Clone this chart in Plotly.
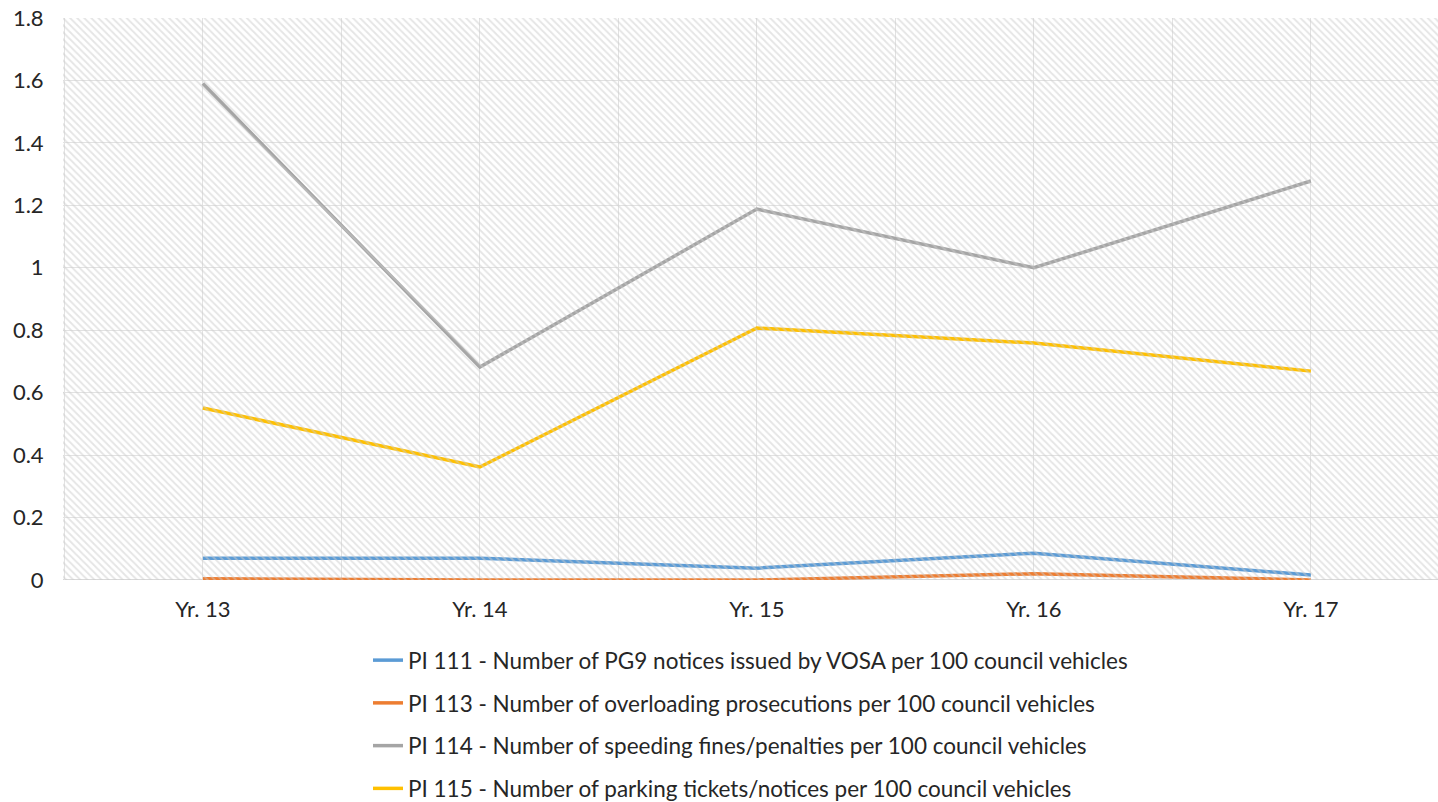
import plotly.graph_objects as go

categories = ["Yr. 13", "Yr. 14", "Yr. 15", "Yr. 16", "Yr. 17"]
pi111 = [0.07, 0.07, 0.038, 0.086, 0.016]
pi113 = [0.004, 0.0, 0.0, 0.02, 0.0]
pi114 = [1.59, 0.682, 1.188, 1.0, 1.278]
pi115 = [0.551, 0.362, 0.807, 0.759, 0.669]

series_names = [
    "PI 111 - Number of PG9 notices issued by VOSA per 100 council vehicles",
    "PI 113 - Number of overloading prosecutions per 100 council vehicles",
    "PI 114 - Number of speeding fines/penalties per 100 council vehicles",
    "PI 115 - Number of parking tickets/notices per 100 council vehicles",
]
series_values = [pi111, pi113, pi114, pi115]
series_colors = ["#5B9BD5", "#ED7D31", "#A5A5A5", "#FFC000"]

y_ticks = [0, 0.2, 0.4, 0.6, 0.8, 1, 1.2, 1.4, 1.6, 1.8]
y_ticktext = ["0", "0.2", "0.4", "0.6", "0.8", "1", "1.2", "1.4", "1.6", "1.8"]

FONT = "Lato"
xs = list(range(len(categories)))

fig = go.Figure()

# hatched plot background on an overlay axis spanning the whole plot area
fig.add_trace(go.Scatter(
    x=[0, 1, 1, 0, 0], y=[0, 0, 1, 1, 0], xaxis="x2", yaxis="y2",
    mode="none", fill="toself", fillcolor="rgba(0,0,0,0)",
    fillpattern=dict(shape="\\", fgcolor="#cccccc", bgcolor="rgba(255,255,255,0)",
                     size=5, solidity=0.38, fillmode="overlay"),
    showlegend=False, hoverinfo="skip",
))

for i, (name, vals, col) in enumerate(zip(series_names, series_values, series_colors)):
    fig.add_trace(go.Scatter(
        x=xs, y=vals, mode="lines", name=name,
        line=dict(color=col, width=3.5),
        legendgroup=f"g{i}",
    ))

# tick positions at categories and half-way boundaries (gridlines)
tickvals = []
ticktext = []
for i, c in enumerate(categories):
    tickvals.append(i - 0.5)
    ticktext.append("")
    tickvals.append(i)
    ticktext.append(c)
tickvals.append(len(categories) - 0.5)
ticktext.append("")

fig.update_layout(
    width=1438, height=802,
    margin=dict(l=63, r=0, t=18, b=222, autoexpand=False),
    paper_bgcolor="white", plot_bgcolor="white",
    font=dict(family=FONT, size=22, color="#262626"),
    xaxis=dict(
        range=[-0.505, 4.459], tickvals=tickvals, ticktext=ticktext,
        showgrid=True, gridcolor="#e2e2e2", gridwidth=1,
        zeroline=False, showline=False,
        ticks="outside", ticklen=10, tickcolor="rgba(0,0,0,0)",
        tickfont=dict(family=FONT, size=22, color="#262626"),
    ),
    yaxis=dict(
        range=[0, 1.8], tickvals=y_ticks, ticktext=y_ticktext,
        showgrid=True, gridcolor="#e2e2e2", gridwidth=1,
        zeroline=False, showline=False, ticklabeloverflow="allow",
        ticks="outside", ticklen=14, tickcolor="rgba(0,0,0,0)",
        tickfont=dict(family=FONT, size=22, color="#262626"),
    ),
    xaxis2=dict(range=[0, 1], overlaying="x", visible=False, fixedrange=True),
    yaxis2=dict(range=[0, 1], overlaying="y", visible=False, fixedrange=True),
    shapes=[dict(type="line", xref="paper", yref="y", x0=0, x1=1, y0=0, y1=0,
                 line=dict(color="#d9d9d9", width=2), layer="below")],
    legend=dict(
        orientation="v", xref="container", yref="container",
        x=368 / 1438, xanchor="left", y=1 - 639 / 802, yanchor="top",
        font=dict(family=FONT, size=22.5, color="#262626"),
        tracegroupgap=10.5, bgcolor="rgba(0,0,0,0)",
    ),
    showlegend=True,
)

fig.write_html("out.html", config={"displayModeBar": False},
               post_script="document.body.style.margin='0';")
